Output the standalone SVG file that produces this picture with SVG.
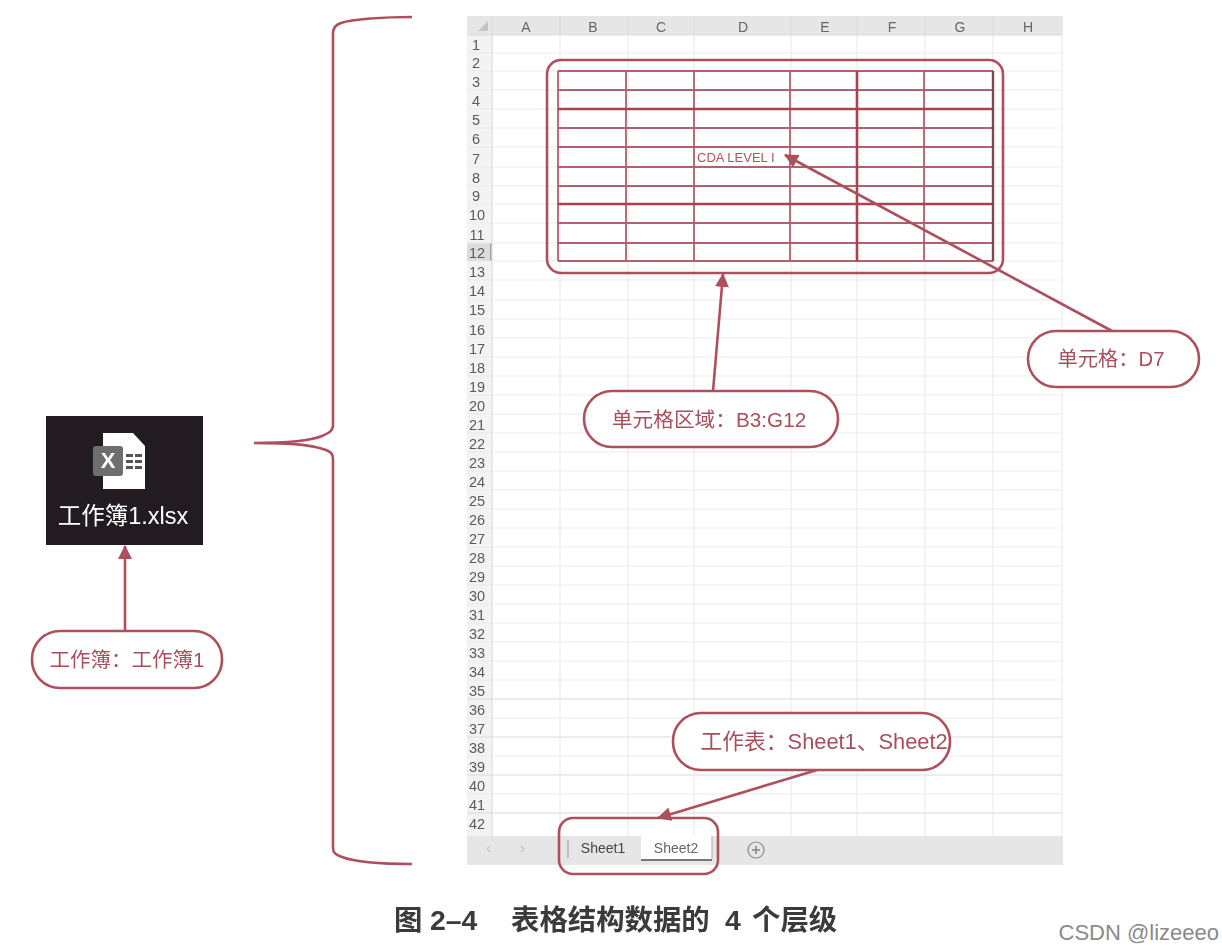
<svg xmlns="http://www.w3.org/2000/svg" width="1222" height="952" viewBox="0 0 1222 952">
<style>
text{font-family:"Liberation Sans","Noto Sans CJK SC",sans-serif}
.g{stroke:#ececec;stroke-width:1.2;fill:none}
.gd{stroke:#dcdcdc;stroke-width:1.2;fill:none}
.h{font-size:14px;fill:#666;text-anchor:middle}
.r{font-size:14.5px;fill:#5a5a5a;text-anchor:middle}
.t1{stroke:#b2606c;stroke-width:1.8;fill:none}
.t2{stroke:#a8434f;stroke-width:2.6;fill:none}
.box{stroke:#ad4f5c;stroke-width:2.6;fill:none}
.cb{stroke:#ad4f5c;stroke-width:2.6;fill:#fff}
.ct{fill:#a94f5c;text-anchor:middle}
.ar{stroke:#ad4f5c;stroke-width:2.6;fill:none;marker-end:url(#a)}
.cap{font-size:28.4px;font-weight:bold;fill:#3a3a3a}
</style>
<defs>
<marker id="a" viewBox="0 0 14 14" refX="13" refY="7" markerWidth="14" markerHeight="14" markerUnits="userSpaceOnUse" orient="auto"><path d="M0 0L14 7L0 14z" fill="#ad4f5c"/></marker>
<filter id="b" x="-2%" y="-2%" width="104%" height="104%"><feGaussianBlur stdDeviation="0.5"/></filter>
</defs>
<rect width="1222" height="952" fill="#fff"/>
<g filter="url(#b)">
<g id="sheet">
<rect x="467" y="16" width="596" height="19" fill="#e6e6e6"/>
<rect x="467" y="35" width="25" height="801" fill="#f3f3f3"/>
<rect x="467" y="243" width="25" height="18" fill="#dcdcdc"/>
<path d="M491 243V261" stroke="#a8a8a8" stroke-width="2"/>
<path d="M488 21V31H478z" fill="#c4c4c4"/>
<path class="g" d="M560 35V836M628 35V836M694 35V836M791 35V836M857 35V836M925 35V836M993 35V836M1062 16V836"/>
<path class="g" d="M467 53H1062M467 71H1062M467 90H1062M467 109H1062M467 128H1062M467 147H1062M467 167H1062M467 186H1062M467 204H1062M467 223H1062M467 243H1062M467 261H1062M467 280H1062M467 300H1062M467 319H1062M467 338H1062M467 357H1062M467 376H1062M467 395H1062M467 414H1062M467 433H1062M467 452H1062M467 471H1062M467 490H1062M467 509H1062M467 528H1062M467 547H1062M467 566H1062M467 585H1062M467 604H1062M467 623H1062M467 642H1062M467 661H1062M467 680H1062M467 718H1062M467 756H1062M467 794H1062"/>
<path class="gd" d="M467 699H1062M467 737H1062M467 775H1062M467 813H1062"/>
<path class="gd" d="M467 35H1062M492 16V836M560 16V35M628 16V35M694 16V35M791 16V35M857 16V35M925 16V35M993 16V35"/>
<text class="h" x="526" y="32">A</text><text class="h" x="593" y="32">B</text><text class="h" x="661" y="32">C</text><text class="h" x="743" y="32">D</text><text class="h" x="825" y="32">E</text><text class="h" x="892" y="32">F</text><text class="h" x="960" y="32">G</text><text class="h" x="1028" y="32">H</text>
<text class="r" x="476" y="50">1</text><text class="r" x="476" y="68">2</text><text class="r" x="476" y="87">3</text><text class="r" x="476" y="106">4</text><text class="r" x="476" y="125">5</text><text class="r" x="476" y="144">6</text><text class="r" x="476" y="164">7</text><text class="r" x="476" y="183">8</text><text class="r" x="476" y="201">9</text><text class="r" x="477" y="220">10</text><text class="r" x="477" y="240">11</text><text class="r" x="477" y="258">12</text><text class="r" x="477" y="277">13</text><text class="r" x="477" y="296">14</text><text class="r" x="477" y="315">15</text><text class="r" x="477" y="335">16</text><text class="r" x="477" y="354">17</text><text class="r" x="477" y="373">18</text><text class="r" x="477" y="392">19</text><text class="r" x="477" y="411">20</text><text class="r" x="477" y="430">21</text><text class="r" x="477" y="449">22</text><text class="r" x="477" y="468">23</text><text class="r" x="477" y="487">24</text><text class="r" x="477" y="506">25</text><text class="r" x="477" y="525">26</text><text class="r" x="477" y="544">27</text><text class="r" x="477" y="563">28</text><text class="r" x="477" y="582">29</text><text class="r" x="477" y="601">30</text><text class="r" x="477" y="620">31</text><text class="r" x="477" y="639">32</text><text class="r" x="477" y="658">33</text><text class="r" x="477" y="677">34</text><text class="r" x="477" y="696">35</text><text class="r" x="477" y="715">36</text><text class="r" x="477" y="734">37</text><text class="r" x="477" y="753">38</text><text class="r" x="477" y="772">39</text><text class="r" x="477" y="791">40</text><text class="r" x="477" y="810">41</text><text class="r" x="477" y="829">42</text>
<rect x="467" y="836" width="596" height="29" fill="#e6e6e6"/>
<path d="M490 846l-3 3 3 3M521 846l3 3-3 3" stroke="#c4c4c4" stroke-width="1.2" fill="none"/>
<path d="M568 840V858" stroke="#999" stroke-width="1"/>
<rect x="641" y="836" width="71" height="23" fill="#fff"/>
<path d="M641 860H712" stroke="#777" stroke-width="2"/>
<path d="M712 836V859" stroke="#aaa" stroke-width="1"/>
<text x="603" y="853" font-size="14" fill="#444" text-anchor="middle">Sheet1</text>
<text x="676" y="853" font-size="14" fill="#666" text-anchor="middle">Sheet2</text>
<circle cx="756" cy="850" r="8" fill="none" stroke="#888" stroke-width="1.2"/>
<path d="M752 850H760M756 846V854" stroke="#888" stroke-width="1.6"/>
</g>
<g id="table">
<path class="t1" d="M558 90H993M558 128H993M558 147H993M558 167H993M558 186H993M558 223H993M558 243H993"/>
<path class="t1" d="M558 71V261M626 71V261M694 71V261M790 71V261M924 71V261"/>
<path class="t1" d="M558 71H993M558 261H993"/>
<path class="t2" d="M558 109H993M558 204H993M857 71V261"/>
<path d="M993 71V261" stroke="#7a4a50" stroke-width="2.4"/>
<text x="697" y="162" font-size="13" fill="#b8505f">CDA LEVEL I</text>
</g>
<g id="range"><rect class="box" x="547" y="60" width="456" height="213" rx="14"/></g>
<g id="brace"><path d="M412 17C385 17 352 19 341 23C335 25 333 28 333 33V425C333 431 329 433 322 436C310 441 290 443 254 443C295 443 312 445 326 450C331 452 333 454 333 459V848C333 853 336 855 342 857C355 862 385 864 412 864" stroke="#ad4f5c" stroke-width="2.6" fill="none"/></g>
<g id="workbook">
<rect x="46" y="416" width="157" height="129" fill="#231f20"/>
<path d="M103 433H133L145 446V489H103z" fill="#fff"/>
<path d="M126 454h7v3h-7zM135 454h7v3h-7zM126 460h7v3h-7zM135 460h7v3h-7zM126 466h7v3h-7zM135 466h7v3h-7z" fill="#555"/>
<rect x="93" y="446" width="30" height="30" rx="3" fill="#6e6e6e"/>
<text x="108" y="468" font-size="22" font-weight="bold" fill="#fff" text-anchor="middle">X</text>
<text x="123" y="524" font-size="23.5" fill="#fff" text-anchor="middle">工作簿1.xlsx</text>
</g>
<g id="connectors">
<path class="ar" d="M125 631V546"/>
<path class="ar" d="M713 391L723 274"/>
<path class="ar" d="M1112 331L785 155"/>
<path class="ar" d="M817 770L658 818"/>
</g>
<g id="tabs"><rect class="box" x="559" y="818" width="159" height="56" rx="14"/></g>
<g id="c1"><rect class="cb" x="32" y="631" width="190" height="57" rx="28"/><text class="ct" font-size="20.5" x="127" y="667">工作簿：工作簿1</text></g>
<g id="c2"><rect class="cb" x="584" y="391" width="254" height="56" rx="28"/><text class="ct" font-size="20.7" x="709" y="427">单元格区域：B3:G12</text></g>
<g id="c3"><rect class="cb" x="1028" y="331" width="171" height="56" rx="28"/><text class="ct" font-size="20.3" x="1111" y="366">单元格：D7</text></g>
<g id="c4"><rect class="cb" x="673" y="713" width="277" height="57" rx="28"/><text class="ct" font-size="21.8" x="824" y="749">工作表：Sheet1、Sheet2</text></g>
<g id="caption"><text class="cap" x="394" y="930">图</text><text class="cap" x="430" y="930">2–4</text><text class="cap" x="511" y="930">表格结构数据的</text><text class="cap" x="725" y="930">4</text><text class="cap" x="752" y="930">个层级</text></g>
</g>
<text id="wm" x="1219" y="940" font-size="22" fill="#8a8a8a" text-anchor="end">CSDN @lizeeeo</text>
</svg>
